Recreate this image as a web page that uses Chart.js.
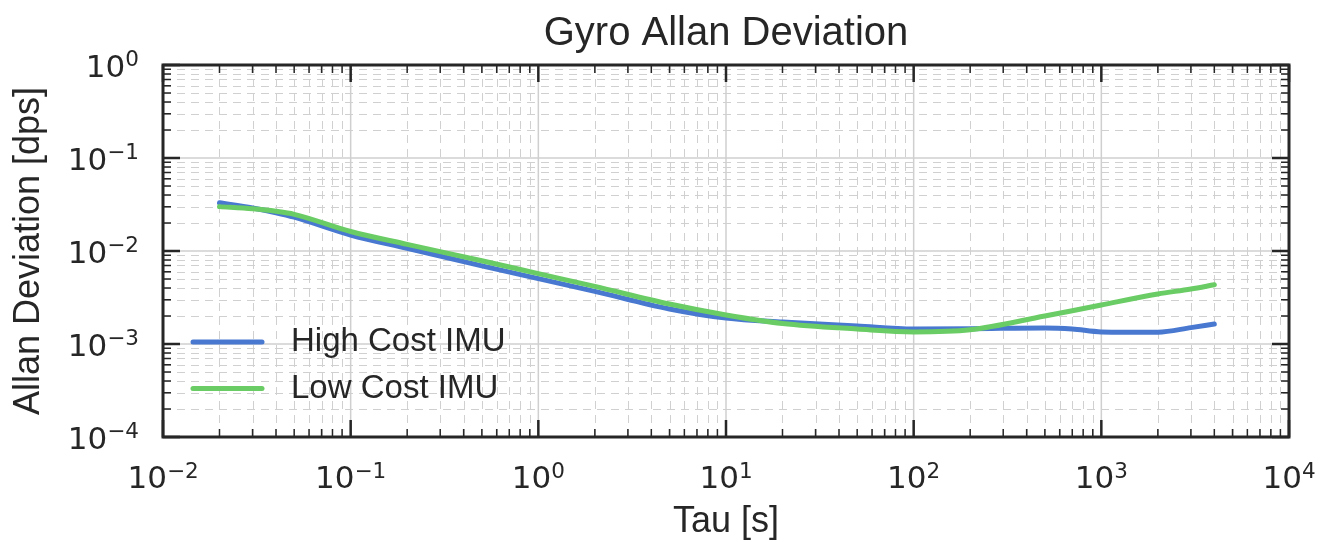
<!DOCTYPE html>
<html>
<head>
<meta charset="utf-8">
<title>Gyro Allan Deviation</title>
<script src="https://cdn.jsdelivr.net/npm/chart.js@4/dist/chart.umd.min.js"></script>
<style>
  html, body { margin: 0; padding: 0; background: #fff; }
  canvas { display: block; }
</style>
</head>
<body>
<canvas id="allanChart" width="1331" height="542"></canvas>
<script>
// averaging time tau [s]
const tau = [0.02, 0.03, 0.04, 0.05, 0.1, 0.2, 0.5, 1, 2, 5, 10, 20, 50, 100, 200, 500, 700, 1000, 2000, 3000, 4000];

// Allan deviation [dps]
const highCost = [0.0330, 0.0290, 0.0258, 0.0231, 0.01486, 0.01069, 0.00693, 0.00505, 0.00368, 0.00238, 0.00190,
  0.00172, 0.00156, 0.00145, 0.00146, 0.00149, 0.00145, 0.00135, 0.00134, 0.00150, 0.00164];
const lowCost = [0.0300, 0.0284, 0.0267, 0.0248, 0.0162, 0.01178, 0.00785, 0.00571, 0.00416, 0.00269, 0.00205,
  0.00166, 0.00145, 0.00135, 0.00142, 0.00200, 0.00228, 0.00263, 0.00345, 0.00390, 0.00434];

const seriesNames = ["High Cost IMU", "Low Cost IMU"];

// decade tick labels: 10^e
const xTickExps = [-2, -1, 0, 1, 2, 3, 4];
const yTickExps = [-4, -3, -2, -1, 0];

const SANS = '"Liberation Sans", Arial, sans-serif';
const MATH = '"DejaVu Sans", sans-serif';
const INK = "#262626";

function pts(ys) {
  return tau.map((t, i) => ({ x: t, y: ys[i] }));
}

// every 1..9 x 10^e inside the scale range
function logSteps(scale, wantMajor) {
  const out = [];
  const lo = Math.floor(Math.log10(scale.min));
  const hi = Math.ceil(Math.log10(scale.max));
  for (let e = lo; e <= hi; e++) {
    for (let m = 1; m <= 9; m++) {
      if ((m === 1) !== wantMajor) continue;
      const v = m * Math.pow(10, e);
      if (v >= scale.min * 0.999 && v <= scale.max * 1.001) out.push(v);
    }
  }
  return out;
}

function supText(e) {
  return e < 0 ? "\u2212" + Math.abs(e) : String(e);
}

// matplotlib-like look: solid major grid, dashed minor grid, inward ticks on all sides
const logAxesDecor = {
  id: "logAxesDecor",
  beforeDatasetsDraw(chart) {
    const { ctx, chartArea: a, scales } = chart;
    const x = scales.x, y = scales.y;
    ctx.save();

    ctx.lineWidth = 1;
    ctx.strokeStyle = "#d0d0d0";
    ctx.setLineDash([8, 6]);
    ctx.beginPath();
    logSteps(x, false).forEach((v) => {
      const p = Math.round(x.getPixelForValue(v)) + 0.5;
      ctx.moveTo(p, a.top);
      ctx.lineTo(p, a.bottom);
    });
    logSteps(y, false).forEach((v) => {
      const p = Math.round(y.getPixelForValue(v)) + 0.5;
      ctx.moveTo(a.left, p);
      ctx.lineTo(a.right, p);
    });
    ctx.stroke();

    ctx.setLineDash([]);
    ctx.lineWidth = 1.5;
    ctx.strokeStyle = "#cfcfcf";
    ctx.beginPath();
    logSteps(x, true).forEach((v) => {
      const p = x.getPixelForValue(v);
      ctx.moveTo(p, a.top);
      ctx.lineTo(p, a.bottom);
    });
    logSteps(y, true).forEach((v) => {
      const p = y.getPixelForValue(v);
      ctx.moveTo(a.left, p);
      ctx.lineTo(a.right, p);
    });
    ctx.stroke();
    ctx.restore();
  },

  afterDatasetsDraw(chart) {
    const { ctx, chartArea: a, scales } = chart;
    const x = scales.x, y = scales.y;
    ctx.save();
    ctx.strokeStyle = INK;

    // ticks, pointing in
    [[false, 8, 1.5], [true, 17, 2.5]].forEach(([major, len, w]) => {
      ctx.lineWidth = w;
      ctx.beginPath();
      logSteps(x, major).forEach((v) => {
        const p = x.getPixelForValue(v);
        ctx.moveTo(p, a.bottom);
        ctx.lineTo(p, a.bottom - len);
        ctx.moveTo(p, a.top);
        ctx.lineTo(p, a.top + len);
      });
      logSteps(y, major).forEach((v) => {
        const p = y.getPixelForValue(v);
        ctx.moveTo(a.left, p);
        ctx.lineTo(a.left + len, p);
        ctx.moveTo(a.right, p);
        ctx.lineTo(a.right - len, p);
      });
      ctx.stroke();
    });

    // frame
    ctx.lineWidth = 3;
    ctx.strokeRect(a.left, a.top, a.right - a.left, a.bottom - a.top);

    // tick labels 10^e
    ctx.fillStyle = INK;
    ctx.textBaseline = "alphabetic";
    ctx.textAlign = "left";
    const baseFont = "31px " + MATH;
    const supFont = "21.5px " + MATH;
    xTickExps.forEach((e) => {
      const p = x.getPixelForValue(Math.pow(10, e));
      ctx.font = baseFont;
      const wb = ctx.measureText("10").width;
      ctx.font = supFont;
      const ws = ctx.measureText(supText(e)).width;
      const x0 = p - (wb + ws) / 2;
      ctx.font = baseFont;
      ctx.fillText("10", x0, a.bottom + 51);
      ctx.font = supFont;
      ctx.fillText(supText(e), x0 + wb, a.bottom + 41);
    });
    yTickExps.forEach((e) => {
      const p = y.getPixelForValue(Math.pow(10, e));
      ctx.font = supFont;
      const ws = ctx.measureText(supText(e)).width;
      ctx.font = baseFont;
      const wb = ctx.measureText("10").width;
      const xr = a.left - 24;
      ctx.fillText("10", xr - ws - wb, p + 12);
      ctx.font = supFont;
      ctx.fillText(supText(e), xr - ws, p + 1);
    });

    // title over the axes
    ctx.font = "40px " + SANS;
    ctx.textAlign = "center";
    ctx.fillText("Gyro Allan Deviation", (a.left + a.right) / 2, a.top - 20);

    // legend, lower left inside the axes
    ctx.textAlign = "left";
    ctx.textBaseline = "middle";
    ctx.font = "33px " + SANS;
    ctx.lineCap = "round";
    chart.data.datasets.forEach((ds, i) => {
      const ly = a.bottom - 95 + i * 46.5;
      ctx.strokeStyle = ds.borderColor;
      ctx.lineWidth = 5;
      ctx.beginPath();
      ctx.moveTo(a.left + 30, ly);
      ctx.lineTo(a.left + 99, ly);
      ctx.stroke();
      ctx.fillText(ds.label, a.left + 128, ly);
    });
    ctx.restore();
  },
};

const titleFont = { family: SANS, size: 36, lineHeight: 1 };

new Chart(document.getElementById("allanChart").getContext("2d"), {
  type: "line",
  data: {
    datasets: [
      {
        label: seriesNames[0],
        data: pts(highCost),
        borderColor: "#4878d0",
        borderWidth: 5,
        pointRadius: 0,
        cubicInterpolationMode: "monotone",
        borderCapStyle: "round",
        order: 1,
      },
      {
        label: seriesNames[1],
        data: pts(lowCost),
        borderColor: "#6acc64",
        borderWidth: 5,
        pointRadius: 0,
        cubicInterpolationMode: "monotone",
        borderCapStyle: "round",
        order: 0,
      },
    ],
  },
  options: {
    responsive: false,
    animation: false,
    layout: { padding: { top: 65, right: 42, left: 0, bottom: 0 } },
    plugins: {
      legend: { display: false },
      title: { display: false },
      tooltip: { enabled: false },
    },
    scales: {
      x: {
        type: "logarithmic",
        min: 0.01,
        max: 10000,
        grid: { display: false },
        border: { display: false },
        ticks: { display: false },
        title: { display: true, text: "Tau [s]", color: INK, font: titleFont, padding: { top: 0, bottom: 1.5 } },
        afterFit: (s) => { s.height = 105; },
      },
      y: {
        type: "logarithmic",
        min: 0.0001,
        max: 1,
        grid: { display: false },
        border: { display: false },
        ticks: { display: false },
        title: { display: true, text: "Allan Deviation [dps]", color: INK, font: titleFont, padding: { top: 11, bottom: 0 } },
        afterFit: (s) => { s.width = 163; },
      },
    },
  },
  plugins: [logAxesDecor],
});
</script>
</body>
</html>
